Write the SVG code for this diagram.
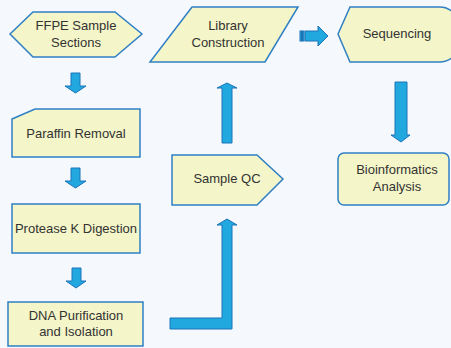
<svg xmlns="http://www.w3.org/2000/svg" width="451" height="348" viewBox="0 0 451 348">
<style>
.n{fill:#f4f5c8;stroke:#2f7fc4;stroke-width:1.5}
.a{fill:#21a9df;stroke:#1d72b8;stroke-width:1}
text{font-family:"Liberation Sans",Arial,sans-serif;font-size:13px;fill:#333;text-anchor:middle}
</style>
<rect width="451" height="348" fill="#f5f9fd"/>
<g id="connectors">
<path class="a" d="M71,73 H80 V86 H86 L75.5,93 L65,86 H71 Z"/>
<path class="a" d="M71,168 H80 V181 H86 L75.5,188 L65,181 H71 Z"/>
<path class="a" d="M72,268 H81 V281 H86 L76,288 L66,281 H72 Z"/>
<path class="a" d="M170,318 H222 V225 H217 L227,219 L237,225 H232 V329 H170 Z"/>
<path class="a" d="M222,143 V88 H217 L227,83 L237,88 H232 V143 Z"/>
<rect class="a" x="300" y="31" width="1.5" height="10" stroke-width="0.6"/>
<rect class="a" x="302.5" y="31" width="1.5" height="10" stroke-width="0.6"/>
<path class="a" d="M305,31 H318 V26 L328,36 L318,46 V41 H305 Z"/>
<path class="a" d="M395,82 H407 V135 H410 L401,142 L391,135 H395 Z"/>
</g>
<g id="ffpe">
<path class="n" d="M10,34 L33,12 H115 L142,34 L115,57 H33 Z"/>
<text x="76" y="30">FFPE Sample</text>
<text x="76" y="47">Sections</text>
</g>
<g id="library">
<path class="n" d="M192,7 H298 L265,62 H150 Z"/>
<text x="228" y="30">Library</text>
<text x="228" y="47">Construction</text>
</g>
<g id="sequencing">
<path class="n" d="M338,34 L350,7 H440 A22,27.5 0 0 1 440,62 H350 Z"/>
<text x="397" y="38">Sequencing</text>
</g>
<g id="paraffin">
<path class="n" d="M12,119 L35,109 H140 V157 H12 Z"/>
<text x="76" y="138">Paraffin Removal</text>
</g>
<g id="protease">
<rect class="n" x="12" y="204" width="128" height="49"/>
<text x="76" y="233">Protease K Digestion</text>
</g>
<g id="dna">
<rect class="n" x="8" y="302" width="135" height="44"/>
<text x="76" y="320">DNA Purification</text>
<text x="76" y="336">and Isolation</text>
</g>
<g id="sampleqc">
<path class="n" d="M172,155 H257 L283,179 L257,205 H172 Z"/>
<text x="227" y="183">Sample QC</text>
</g>
<g id="bioinformatics">
<rect class="n" x="338" y="153" width="111" height="52" rx="6"/>
<text x="397" y="174">Bioinformatics</text>
<text x="397" y="191">Analysis</text>
</g>
</svg>
